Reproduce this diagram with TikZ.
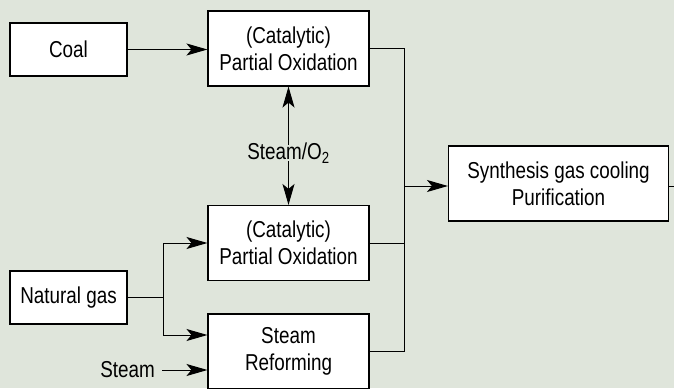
\documentclass[tikz,border=0pt]{standalone}
\usepackage{fontspec}
\setmainfont{Liberation Sans}[FakeStretch=0.82]
\usetikzlibrary{arrows.meta}
\definecolor{bgc}{RGB}{223,229,219}
\tikzset{
  box/.style={draw=black, fill=white, line width=1.1pt, align=center, inner sep=0pt,
              font=\fontsize{23}{27}\selectfont},
  smallbox/.style={box, minimum width=117pt, minimum height=53pt},
  bigbox/.style={box, minimum width=161pt, minimum height=75pt},
  lbl/.style={font=\fontsize{23}{27}\selectfont, inner sep=0pt},
  conn/.style={line width=1pt},
  arr/.style={conn, -{Stealth[length=21pt,width=12pt,inset=5pt]}}
}
\begin{document}
\begin{tikzpicture}[x=1pt,y=-1pt]
\useasboundingbox (0,0) rectangle (674,388);
\fill[bgc] (0,0) rectangle (674,388);

\node[smallbox] (coal) at (68.5,49.5) {Coal};
\node[bigbox] (pox1) at (288.5,48.5) {(Catalytic)\\Partial Oxidation};
\node[lbl] (so) at (288.5,153) {Steam/O\textsubscript{2}};
\node[bigbox] (pox2) at (288.5,243) {(Catalytic)\\Partial Oxidation};
\node[smallbox] (ng) at (68.5,297.5) {Natural gas};
\node[bigbox] (sr) at (288.5,351.5) {Steam\\Reforming};
\node[lbl, anchor=east] (steam) at (155,370) {Steam};
\node[box, minimum width=220pt, minimum height=75pt] (syn) at (558.5,183.5) {Synthesis gas cooling\\Purification};

\coordinate (br) at (163,297.5);
\coordinate (jx) at (404,186);
\coordinate (out) at (674,186);

\draw[arr] (coal) -- (pox1.west |- coal);
\draw[arr] ([yshift=-2pt]so.north) -- (pox1.south);
\draw[arr] ([yshift=2pt]so.south) -- (pox2.north);
\draw[conn] (ng.east) -- (br);
\draw[arr] (br) |- (pox2.west);
\draw[arr] (br) |- ([yshift=16.5pt]sr.west);
\draw[arr] ([xshift=7pt]steam.east |- 0,370) -- ([yshift=-18.5pt]sr.west);
\draw[conn] (pox1.east) -| (jx |- sr.east) -- (sr.east);
\draw[conn] (pox2.east) -- (pox2.east -| jx);
\draw[arr] (jx) -- (jx -| syn.west);
\draw[conn] (syn.east |- out) -- (out);
\end{tikzpicture}
\end{document}
